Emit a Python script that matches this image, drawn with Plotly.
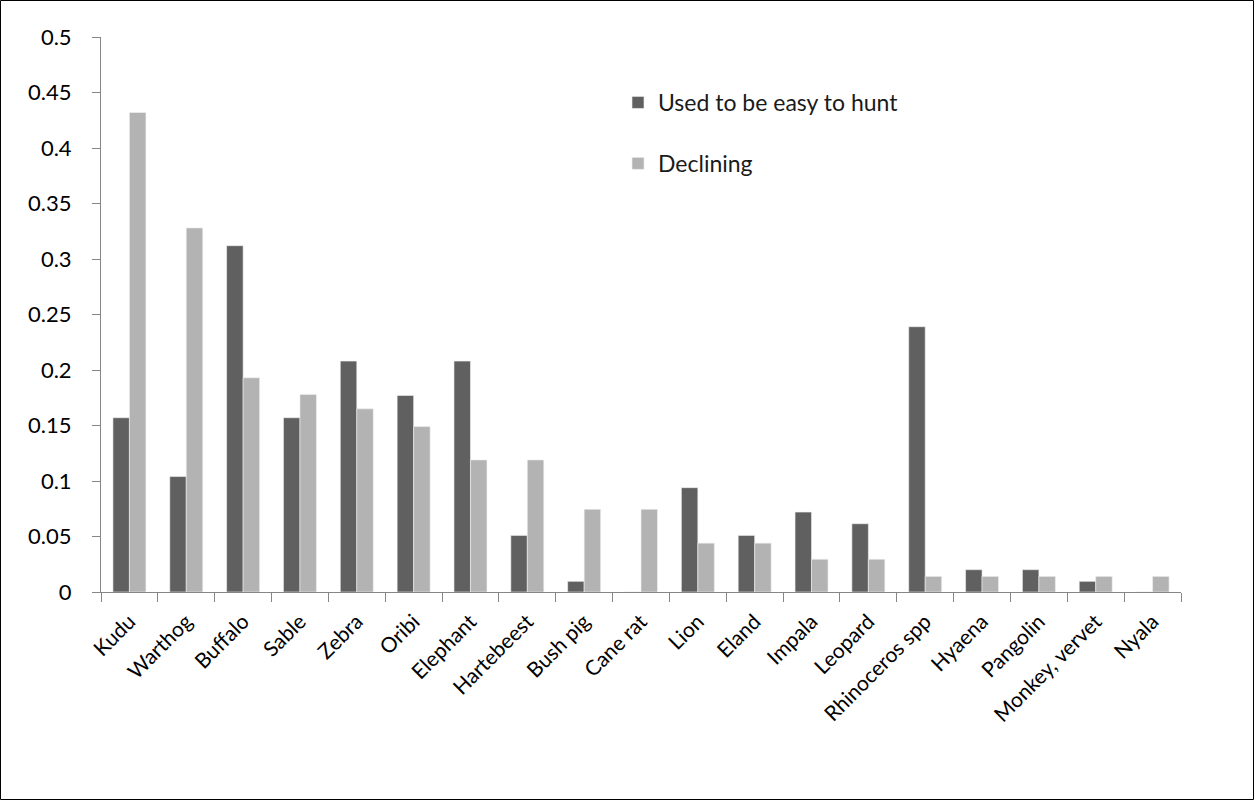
import plotly.graph_objects as go

categories = ["Kudu", "Warthog", "Buffalo", "Sable", "Zebra", "Oribi", "Elephant",
              "Hartebeest", "Bush pig", "Cane rat", "Lion", "Eland", "Impala",
              "Leopard", "Rhinoceros spp", "Hyaena", "Pangolin", "Monkey, vervet", "Nyala"]
used_easy = [0.157, 0.104, 0.312, 0.157, 0.208, 0.177, 0.208, 0.051, 0.0096, 0.0,
             0.094, 0.051, 0.072, 0.0615, 0.239, 0.0201, 0.0201, 0.0096, 0.0]
declining = [0.432, 0.328, 0.193, 0.178, 0.165, 0.149, 0.119, 0.119, 0.0745, 0.0745,
             0.044, 0.044, 0.0295, 0.0295, 0.0141, 0.0141, 0.0141, 0.0141, 0.0141]
y_ticks = [0, 0.05, 0.1, 0.15, 0.2, 0.25, 0.3, 0.35, 0.4, 0.45, 0.5]
y_tick_text = ["0", "0.05", "0.1", "0.15", "0.2", "0.25", "0.3", "0.35", "0.4", "0.45", "0.5"]

W, H = 1255, 801
L, R, T, B = 101, 74, 37, 209
pw, ph = W - L - R, H - T - B

FONT = "Lato, 'Open Sans', sans-serif"

fig = go.Figure()
fig.add_trace(go.Bar(x=categories, y=used_easy, name="Used to be easy to hunt",
                     marker=dict(color="#606060", line=dict(color="#f0f0f0", width=0.6)),
                     legendgroup="a"))
fig.add_trace(go.Bar(x=categories, y=declining, name="Declining",
                     marker=dict(color="#b3b3b3", line=dict(color="#f0f0f0", width=0.6)),
                     legendgroup="b"))

def px_x(p):
    return (p - L) / pw

def px_y(p):
    return (H - B - p) / ph

fig.add_shape(type="rect", xref="paper", yref="paper",
              x0=px_x(0.5), x1=px_x(W - 1.5), y0=px_y(H - 1.5), y1=px_y(0.5),
              line=dict(color="black", width=1), fillcolor="rgba(0,0,0,0)", layer="below")

fig.update_layout(
    width=W, height=H,
    margin=dict(l=L, r=R, t=T, b=B, autoexpand=False),
    paper_bgcolor="white", plot_bgcolor="white",
    barmode="group", bargap=0.42, bargroupgap=0.0,
    font=dict(family=FONT, size=21, color="black"),
    showlegend=True,
    legend=dict(x=px_x(618), y=px_y(81), xanchor="left", yanchor="top",
                bgcolor="rgba(0,0,0,0)", font=dict(size=23, family=FONT, color="#1a1a1a"),
                tracegroupgap=28, traceorder="grouped", itemwidth=30),
    xaxis=dict(type="category", showline=True, linecolor="#868686", linewidth=1,
               ticks="outside", tickson="boundaries", ticklen=9, tickcolor="#868686",
               ticklabelstandoff=8,
               tickangle=-45, tickfont=dict(size=21, family=FONT, color="black"),
               showgrid=False, zeroline=False, range=[-0.5, len(categories) - 0.5]),
    yaxis=dict(range=[0, 0.5], tickvals=y_ticks, ticktext=y_tick_text,
               showline=True, linecolor="#868686", linewidth=1,
               ticks="outside", ticklen=8, tickcolor="#868686",
               ticklabelstandoff=16,
               tickfont=dict(size=22, family=FONT, color="black"),
               showgrid=False, zeroline=False),
)

fig.write_html("out.html")
